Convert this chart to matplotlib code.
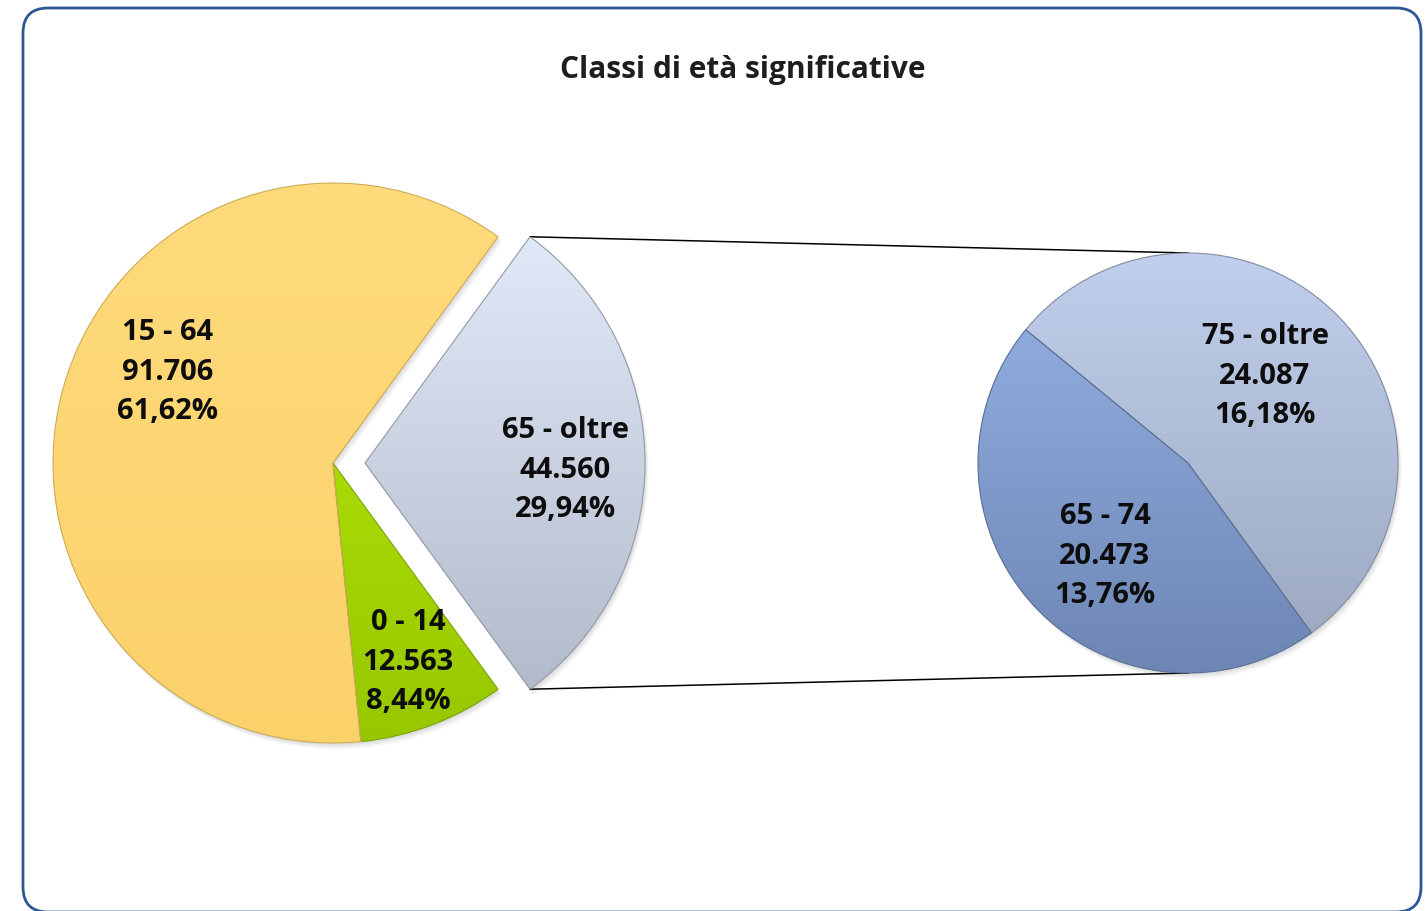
import matplotlib.pyplot as plt
import numpy as np
from matplotlib.patches import FancyBboxPatch, Wedge
from matplotlib.colors import to_rgb

W, H = 1426, 911

title = "Classi di età significative"
main_labels = ["65 - oltre", "0 - 14", "15 - 64"]
main_values = [44560, 12563, 91706]
sub_labels = ["75 - oltre", "65 - 74"]
sub_values = [24087, 20473]

# gradient colours (top, bottom) for each slice
main_colors = [("#e1e8f7", "#b3bacb"), ("#a9db06", "#97c700"), ("#ffdb7c", "#fbd16a")]
sub_colors = [("#c0cfec", "#9eaac3"), ("#8fabdd", "#6d86b4")]

total = sum(main_values)


def fmt_label(name, v):
    num = f"{v:,}".replace(",", ".")
    pct = f"{v / total * 100:.2f}".replace(".", ",")
    return f"{name}\n{num}\n{pct}%"


fig = plt.figure(figsize=(W / 100, H / 100), dpi=100)
ax = fig.add_axes([0, 0, 1, 1])

c1, r1 = (333, 448), 280
c2, r2 = (1188, 448), 210

start1 = main_values[0] / total * 360 / 2
wedges1, _ = ax.pie(main_values, center=c1, radius=r1, startangle=start1,
                    counterclock=False, explode=[32, 0, 0], frame=True)
wedges2, _ = ax.pie(sub_values, center=c2, radius=r2, startangle=-54,
                    counterclock=True, frame=True)


def fill_gradient(w, top, bottom):
    x0, y0, x1, y1 = w.get_path().get_extents().extents
    t = np.linspace(0, 1, 256)[:, None]
    img = (np.array(to_rgb(top)) * (1 - t) + np.array(to_rgb(bottom)) * t)[:, None, :]
    im = ax.imshow(img, extent=(x0, x1, y0, y1), origin="upper", aspect="auto",
                   interpolation="bilinear", zorder=1.9)
    im.set_clip_path(w)
    # soft shadow
    for k, a in [(6, 0.05), (4, 0.07), (2, 0.08)]:
        ax.add_patch(Wedge((w.center[0] + k * 0.6, w.center[1] - k), w.r,
                           w.theta1, w.theta2, color="0.3", alpha=a, lw=0, zorder=1))
    w.set_facecolor("none")
    dark = np.array(to_rgb(bottom)) * 0.82
    w.set_edgecolor(dark)
    w.set_linewidth(0.8)
    w.set_zorder(2)


for w, (a, b) in zip(wedges1, main_colors):
    fill_gradient(w, a, b)
for w, (a, b) in zip(wedges2, sub_colors):
    fill_gradient(w, a, b)

# connector lines from exploded slice to the second pie
we = wedges1[0]
for ang, yend in [(we.theta2, c2[1] + r2), (we.theta1, c2[1] - r2)]:
    xs = we.center[0] + we.r * np.cos(np.radians(ang))
    ys = we.center[1] + we.r * np.sin(np.radians(ang))
    ax.plot([xs, c2[0]], [ys, yend], color="black", lw=1.1, zorder=0.5)

# data labels
lab_font = dict(family="Open Sans", weight="bold", fontsize=21, color="#0d0d0d",
                ha="center", va="center", linespacing=1.47, zorder=5)
main_pos = [(565, 470), (408, 662), (168, 372)]
sub_pos = [(1265, 376), (1105, 556)]
for name, v, (x, y) in zip(main_labels, main_values, main_pos):
    ax.text(x, H - y, fmt_label(name, v), **lab_font)
for name, v, (x, y) in zip(sub_labels, sub_values, sub_pos):
    ax.text(x, H - y, fmt_label(name, v), **lab_font)

ax.text(743, H - 70, title, family="Open Sans", weight="bold", fontsize=21.5,
        color="#1e1e1e", ha="center", va="center")

# rounded frame
ax.add_patch(FancyBboxPatch((23, -1), 1398, 904,
                            boxstyle="round,pad=0,rounding_size=25",
                            fc="none", ec="#2c5694", lw=2, zorder=6))

ax.set_xlim(0, W)
ax.set_ylim(0, H)
ax.set_aspect("auto")
ax.axis("off")

fig.savefig("out.png", dpi=100)
